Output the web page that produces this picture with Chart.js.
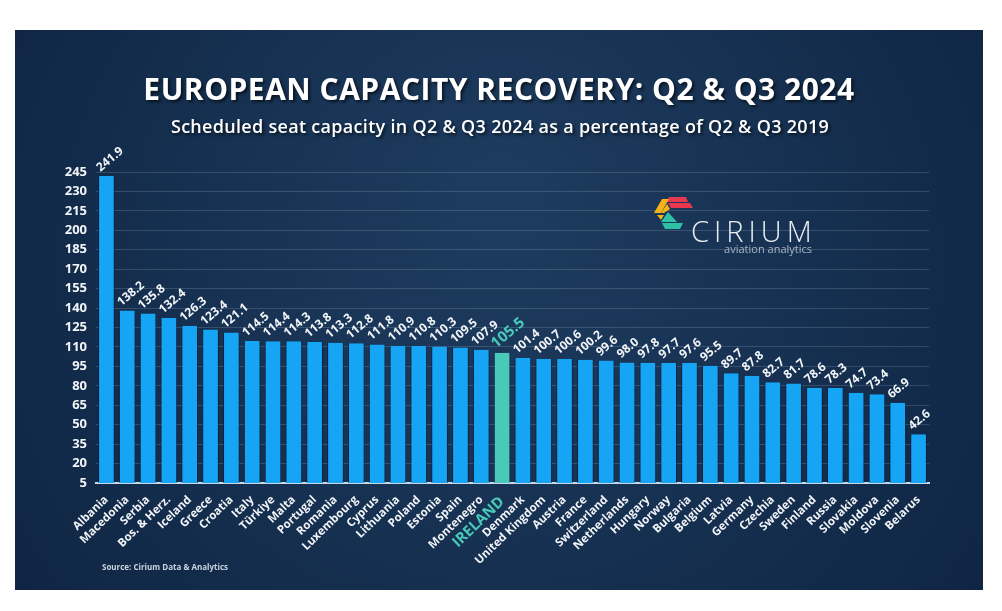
<!DOCTYPE html>
<html>
<head>
<meta charset="utf-8">
<script src="https://cdn.jsdelivr.net/npm/chart.js@4.4.1/dist/chart.umd.min.js"></script>
<style>
  html, body { margin: 0; padding: 0; background: #ffffff; }
  #wrap { width: 1002px; height: 611px; }
</style>
</head>
<body>
<div id="wrap"><canvas id="capacityChart" width="1002" height="611"></canvas></div>
<script>
// European capacity recovery, Q2 & Q3 2024 vs 2019 (%)
const categories = ["Albania", "Macedonia", "Serbia", "Bos. & Herz.", "Iceland", "Greece", "Croatia",
  "Italy", "Türkiye", "Malta", "Portugal", "Romania", "Luxembourg", "Cyprus", "Lithuania", "Poland",
  "Estonia", "Spain", "Montenegro", "IRELAND", "Denmark", "United Kingdom", "Austria", "France",
  "Switzerland", "Netherlands", "Hungary", "Norway", "Bulgaria", "Belgium", "Latvia", "Germany",
  "Czechia", "Sweden", "Finland", "Russia", "Slovakia", "Moldova", "Slovenia", "Belarus"];
const capacity = [241.9, 138.2, 135.8, 132.4, 126.3, 123.4, 121.1,
  114.5, 114.4, 114.3, 113.8, 113.3, 112.8, 111.8, 110.9, 110.8,
  110.3, 109.5, 107.9, 105.5, 101.4, 100.7, 100.6, 100.2,
  99.6, 98.0, 97.8, 97.7, 97.6, 95.5, 89.7, 87.8,
  82.7, 81.7, 78.6, 78.3, 74.7, 73.4, 66.9, 42.6];
const yTicks = [5, 20, 35, 50, 65, 80, 95, 110, 125, 140, 155, 170, 185, 200, 215, 230, 245];

const highlight = "IRELAND";
const BLUE = "#15a5f4";
const TEAL = "#48c9b9";
const isHi = (i) => categories[i] === highlight;

const panel = {
  id: "panel",
  beforeDraw(chart) {
    const ctx = chart.ctx;
    ctx.save();
    ctx.fillStyle = "#ffffff";
    ctx.fillRect(0, 0, chart.width, chart.height);
    const g = ctx.createRadialGradient(500, 200, 40, 500, 300, 620);
    g.addColorStop(0, "#1d3b5e");
    g.addColorStop(0.6, "#142d4d");
    g.addColorStop(1, "#0e2340");
    ctx.fillStyle = g;
    ctx.fillRect(15, 30, 968, 560);
    ctx.restore();
  },
  afterDraw(chart) {
    const ctx = chart.ctx;
    ctx.save();
    // title + subtitle
    ctx.textAlign = "center";
    ctx.textBaseline = "middle";
    ctx.shadowColor = "rgba(0,0,0,0.6)";
    ctx.shadowOffsetX = 2;
    ctx.shadowOffsetY = 2;
    ctx.shadowBlur = 3;
    ctx.fillStyle = "#ffffff";
    ctx.font = "bold 30px 'Open Sans'";
    ctx.letterSpacing = "0.5px";
    ctx.fillText("EUROPEAN CAPACITY RECOVERY: Q2 & Q3 2024", 499, 91);
    ctx.font = "600 18px 'Open Sans'";
    ctx.letterSpacing = "0.3px";
    ctx.fillText("Scheduled seat capacity in Q2 & Q3 2024 as a percentage of Q2 & Q3 2019", 500, 128);
    ctx.letterSpacing = "0px";
    ctx.shadowColor = "transparent";

    // source
    ctx.textAlign = "left";
    ctx.font = "bold 8px 'Open Sans'";
    ctx.fillStyle = "#c9d3de";
    ctx.fillText("Source: Cirium Data & Analytics", 102, 568);

    // logo mark
    const poly = (pts, col) => {
      ctx.beginPath();
      ctx.moveTo(pts[0][0], pts[0][1]);
      pts.slice(1).forEach(p => ctx.lineTo(p[0], p[1]));
      ctx.closePath();
      ctx.fillStyle = col;
      ctx.fill();
    };
    poly([[669, 197], [686, 197], [688, 202], [666, 202]], "#e8384f");
    poly([[668, 203], [690, 203], [693, 208], [671, 208]], "#e8384f");
    poly([[662, 199], [669, 199], [661, 213], [654, 213]], "#f5b21b");
    poly([[667, 204], [670, 209], [664, 213], [661, 213]], "#f5b21b");
    poly([[657, 215], [664, 215], [661, 220]], "#f5b21b");
    poly([[668, 212], [677, 222], [661, 222]], "#2fc1a5");
    poly([[662, 223], [683, 223], [680, 229], [665, 229]], "#2fc1a5");

    // logo text
    ctx.fillStyle = "#e9eef3";
    ctx.font = "300 29px 'Open Sans'";
    ctx.textBaseline = "alphabetic";
    ctx.letterSpacing = "5px";
    ctx.fillText("CIRIUM", 691, 242);
    ctx.letterSpacing = "0px";
    ctx.font = "11px 'Open Sans'";
    ctx.fillStyle = "#aab6c3";
    ctx.textAlign = "right";
    ctx.fillText("aviation analytics", 812, 253);
    ctx.restore();
  },
  afterDatasetsDraw(chart) {
    const ctx = chart.ctx;
    const meta = chart.getDatasetMeta(0);
    ctx.save();
    ctx.textAlign = "left";
    ctx.textBaseline = "alphabetic";
    meta.data.forEach((bar, i) => {
      const hi = isHi(i);
      ctx.save();
      ctx.translate(bar.x - 6, bar.y - 4);
      ctx.rotate(-40 * Math.PI / 180);
      ctx.font = hi ? "bold 15px 'Open Sans'" : "bold 12px 'Open Sans'";
      ctx.fillStyle = hi ? TEAL : "#f2f5f8";
      ctx.fillText(capacity[i].toFixed(1), 0, 0);
      ctx.restore();
    });
    ctx.restore();
  }
};

const capCtx = document.getElementById("capacityChart").getContext("2d");
new Chart(capCtx, {
  type: "bar",
  data: {
    labels: categories,
    datasets: [
      {
        data: capacity,
        backgroundColor: categories.map((c, i) => isHi(i) ? TEAL : BLUE),
        borderColor: "rgba(5,20,40,0.55)",
        borderWidth: { left: 1, right: 1, top: 0, bottom: 0 },
        barPercentage: 0.8,
        categoryPercentage: 1.0,
      },
    ],
  },
  options: {
    responsive: false,
    animation: false,
    layout: { padding: { left: 51, right: 73, top: 172, bottom: 28 } },
    plugins: {
      legend: { display: false },
      tooltip: { enabled: false },
    },
    scales: {
      x: {
        afterFit: (scale) => { scale.height = 100; },
        grid: { display: false },
        border: { color: "#c8d9ea", width: 2 },
        ticks: {
          autoSkip: false,
          maxRotation: 44,
          minRotation: 44,
          padding: 2,
          color: (c) => isHi(c.index) ? TEAL : "#f2f5f8",
          font: (c) => isHi(c.index)
            ? { family: "'Open Sans'", size: 15, weight: "bold" }
            : { family: "'Open Sans'", size: 11.5, weight: "bold" },
        },
      },
      y: {
        min: 5,
        max: 245,
        afterFit: (scale) => { scale.width = 45; },
        afterBuildTicks: (scale) => { scale.ticks = yTicks.map(v => ({ value: v })); },
        grid: { color: "rgba(200,220,240,0.18)", drawTicks: false },
        border: { display: false },
        ticks: {
          padding: 9,
          color: "#f2f5f8",
          font: { family: "'Open Sans'", size: 13, weight: "bold" },
        },
      },
    },
  },
  plugins: [panel],
});
</script>
</body>
</html>
